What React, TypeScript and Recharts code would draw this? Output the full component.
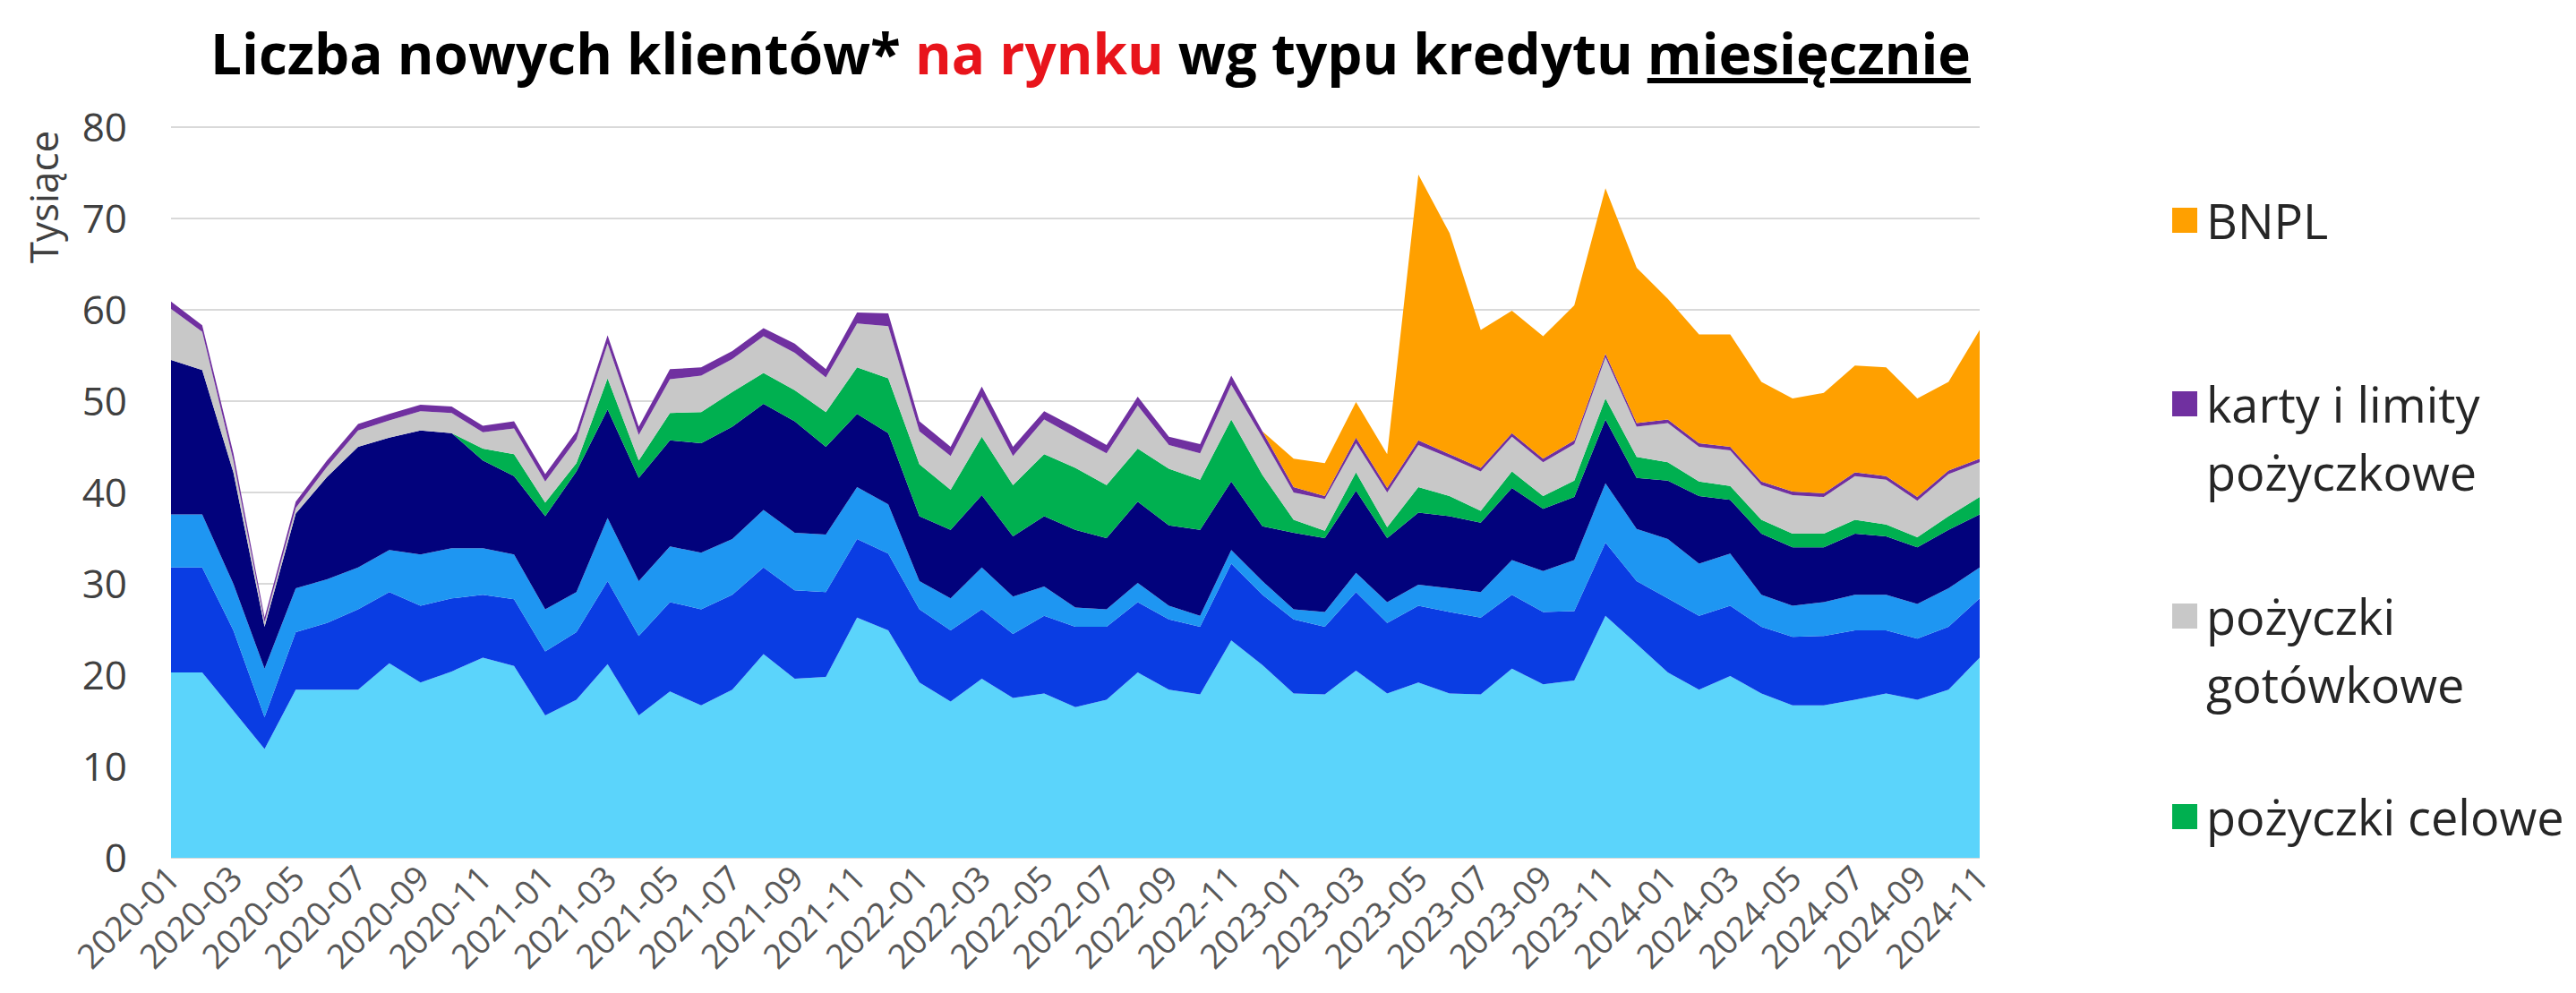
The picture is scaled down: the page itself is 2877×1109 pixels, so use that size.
import { AreaChart, Area, XAxis, YAxis, CartesianGrid, Legend } from 'recharts';

const FONT = "'Open Sans', Lato, sans-serif";

const months = [
  '2020-01', '2020-02', '2020-03', '2020-04', '2020-05', '2020-06', '2020-07', '2020-08', '2020-09', '2020-10', '2020-11', '2020-12',
  '2021-01', '2021-02', '2021-03', '2021-04', '2021-05', '2021-06', '2021-07', '2021-08', '2021-09', '2021-10', '2021-11', '2021-12',
  '2022-01', '2022-02', '2022-03', '2022-04', '2022-05', '2022-06', '2022-07', '2022-08', '2022-09', '2022-10', '2022-11', '2022-12',
  '2023-01', '2023-02', '2023-03', '2023-04', '2023-05', '2023-06', '2023-07', '2023-08', '2023-09', '2023-10', '2023-11', '2023-12',
  '2024-01', '2024-02', '2024-03', '2024-04', '2024-05', '2024-06', '2024-07', '2024-08', '2024-09', '2024-10', '2024-11',
];

// thousands of new clients per month, bottom layer first
const layer1 = [
  20.3, 20.3, 16.1, 11.9, 18.4, 18.4, 18.4, 21.3, 19.2, 20.4, 21.9, 21.0,
  15.6, 17.3, 21.2, 15.6, 18.2, 16.7, 18.4, 22.3, 19.6, 19.8, 26.3, 24.9,
  19.2, 17.1, 19.6, 17.5, 18.0, 16.5, 17.3, 20.3, 18.4, 17.9, 23.8, 21.1,
  18.0, 17.9, 20.5, 18.0, 19.2, 18.0, 17.9, 20.7, 19.0, 19.4, 26.5, 23.4,
  20.3, 18.4, 19.9, 18.0, 16.7, 16.7, 17.3, 18.0, 17.3, 18.4, 21.9,
];
const layer2 = [
  11.5, 11.5, 8.8, 3.5, 6.3, 7.3, 8.8, 7.8, 8.4, 8.0, 6.9, 7.3,
  7.0, 7.4, 9.1, 8.7, 9.8, 10.5, 10.4, 9.5, 9.7, 9.3, 8.6, 8.4,
  8.0, 7.8, 7.6, 7.0, 8.5, 8.8, 8.0, 7.7, 7.7, 7.4, 8.4, 7.7,
  8.1, 7.4, 8.6, 7.7, 8.4, 8.9, 8.4, 8.1, 7.9, 7.6, 8.0, 6.9,
  8.1, 8.1, 7.7, 7.3, 7.5, 7.6, 7.6, 6.9, 6.7, 6.9, 6.5,
];
const layer3 = [
  5.8, 5.8, 5.1, 5.3, 4.8, 4.8, 4.6, 4.6, 5.6, 5.5, 5.1, 4.9,
  4.6, 4.4, 6.9, 6.0, 6.1, 6.2, 6.1, 6.3, 6.3, 6.3, 5.7, 5.4,
  3.1, 3.5, 4.6, 4.1, 3.2, 2.1, 1.9, 2.1, 1.5, 1.2, 1.5, 1.5,
  1.1, 1.6, 2.1, 2.3, 2.3, 2.6, 2.8, 3.8, 4.5, 5.6, 6.5, 5.7,
  6.5, 5.7, 5.7, 3.5, 3.4, 3.7, 3.9, 3.9, 3.8, 4.2, 3.4,
];
const layer4 = [
  16.9, 15.8, 12.2, 4.6, 8.2, 11.2, 13.2, 12.3, 13.6, 12.6, 9.6, 8.6,
  10.2, 13.2, 11.9, 11.3, 11.6, 12.0, 12.3, 11.6, 12.2, 9.6, 8.0, 7.8,
  7.1, 7.5, 7.9, 6.6, 7.7, 8.5, 7.8, 8.9, 8.8, 9.4, 7.5, 6.0,
  8.4, 8.1, 9.0, 7.0, 7.9, 7.9, 7.6, 7.9, 6.8, 6.9, 7.0, 5.6,
  6.4, 7.4, 5.9, 6.7, 6.4, 6.0, 6.7, 6.4, 6.2, 6.4, 5.8,
];
const celowe = [
  0, 0, 0, 0, 0, 0, 0, 0, 0, 0, 1.3, 2.4,
  1.5, 0.9, 3.4, 1.9, 3.0, 3.4, 3.8, 3.4, 3.4, 3.8, 5.1, 6.0,
  5.7, 4.4, 6.4, 5.6, 6.8, 6.8, 5.8, 5.8, 6.2, 5.5, 6.8, 5.6,
  1.4, 0.8, 2.0, 1.2, 2.8, 2.2, 1.3, 1.8, 1.4, 1.8, 2.3, 2.3,
  2.0, 1.6, 1.5, 1.5, 1.5, 1.5, 1.5, 1.3, 1.1, 1.5, 1.9,
];
const gotowkowe = [
  5.6, 4.2, 1.3, 0.5, 0.6, 1.1, 1.8, 1.9, 2.1, 2.2, 1.8, 2.8,
  2.3, 2.6, 3.8, 2.8, 3.7, 4.0, 3.6, 4.0, 4.1, 3.8, 4.8, 5.7,
  3.6, 3.7, 4.4, 3.2, 3.8, 3.4, 3.5, 4.7, 2.6, 2.9, 3.8, 4.1,
  3.0, 3.5, 3.2, 3.8, 4.6, 4.2, 4.3, 3.8, 3.7, 4.0, 4.5, 3.3,
  4.3, 3.8, 3.9, 3.8, 4.2, 4.0, 4.8, 4.9, 4.0, 4.6, 3.8,
];
const karty = [
  0.8, 0.7, 0.8, 0.5, 0.7, 0.7, 0.7, 0.7, 0.7, 0.7, 0.7, 0.8,
  0.8, 0.9, 0.9, 0.9, 1.1, 0.9, 0.9, 0.9, 1.0, 0.9, 1.2, 1.4,
  1.1, 1.0, 1.1, 1.0, 0.9, 1.0, 0.9, 1.0, 0.9, 1.0, 1.0, 0.7,
  0.6, 0.3, 0.6, 0.5, 0.5, 0.4, 0.4, 0.4, 0.4, 0.4, 0.4, 0.4,
  0.4, 0.4, 0.4, 0.4, 0.4, 0.4, 0.4, 0.4, 0.4, 0.4, 0.4,
];
const bnpl = [
  0, 0, 0, 0, 0, 0, 0, 0, 0, 0, 0, 0,
  0, 0, 0, 0, 0, 0, 0, 0, 0, 0, 0, 0,
  0, 0, 0, 0, 0, 0, 0, 0, 0, 0, 0, 0,
  3.1, 3.6, 3.9, 3.7, 29.1, 24.2, 15.1, 13.4, 13.4, 14.8, 18.1, 17.0,
  13.2, 11.9, 12.3, 10.9, 10.2, 11.0, 11.7, 11.9, 10.8, 9.7, 14.1,
];

const yTicks = [0, 10, 20, 30, 40, 50, 60, 70, 80];

const series = [
  { key: 'l1', name: 'kategoria 1', color: '#5BD4FB', values: layer1, legend: false },
  { key: 'l2', name: 'kategoria 2', color: '#0A3DE3', values: layer2, legend: false },
  { key: 'l3', name: 'kategoria 3', color: '#1E96F2', values: layer3, legend: false },
  { key: 'l4', name: 'kategoria 4', color: '#02027C', values: layer4, legend: false },
  { key: 'celowe', name: 'pożyczki celowe', color: '#00B050', values: celowe, legend: true },
  { key: 'gotowkowe', name: 'pożyczki gotówkowe', color: '#C8C8C8', values: gotowkowe, legend: true },
  { key: 'karty', name: 'karty i limity pożyczkowe', color: '#7030A0', values: karty, legend: true },
  { key: 'bnpl', name: 'BNPL', color: '#FFA000', values: bnpl, legend: true },
];

const data = months.map((month, i) => {
  const row: Record<string, string | number> = { month };
  series.forEach((s) => {
    row[s.key] = s.values[i];
  });
  return row;
});

function MonthTick({ x, y, payload }: any) {
  return (
    <g transform={`translate(${x + 3},${y + 8})`}>
      <text x={0} y={0} dy="0.35em" textAnchor="end" transform="rotate(-45)" fill="#595959" fontSize={38} fontFamily={FONT}>
        {payload.value}
      </text>
    </g>
  );
}

// first-line centres of the legend entries, relative to the legend box (top: 200)
const legendRows = [46, 251, 488, 712];

function LegendBox() {
  const items = series.filter((s) => s.legend).reverse();
  return (
    <div style={{ position: 'relative', width: 450, height: 800, fontFamily: FONT }}>
      {items.map((s, i) => (
        <div key={s.key} style={{ position: 'absolute', left: 0, top: legendRows[i] - 38, display: 'flex', alignItems: 'flex-start' }}>
          <span style={{ width: 28, height: 28, marginTop: 24, marginRight: 10, background: s.color, flex: 'none' }} />
          <span style={{ width: 415, fontSize: 54, lineHeight: '76px', color: '#262626' }}>{s.name}</span>
        </div>
      ))}
    </div>
  );
}

export default function App() {
  return (
    <div style={{ position: 'absolute', left: 0, top: 0, width: 2877, height: 1109, background: '#fff', fontFamily: FONT }}>
      <div
        style={{
          position: 'absolute',
          left: 1218,
          top: 26,
          transform: 'translateX(-50%)',
          whiteSpace: 'nowrap',
          fontSize: 62,
          lineHeight: '66px',
          fontWeight: 700,
          color: '#000',
        }}
      >
        Liczba nowych klientów* <span style={{ color: '#E8141B' }}>na rynku</span> wg typu kredytu{' '}
        <span style={{ textDecoration: 'underline' }}>miesięcznie</span>
      </div>
      <AreaChart width={2877} height={1109} data={data} margin={{ top: 142, right: 666, bottom: 0, left: 0 }}>
        <CartesianGrid vertical={false} stroke="#D9D9D9" strokeWidth={2} />
        <XAxis
          dataKey="month"
          scale="point"
          interval={1}
          height={151}
          axisLine={false}
          tickLine={false}
          tick={<MonthTick />}
        />
        <YAxis
          width={191}
          domain={[0, 80]}
          ticks={yTicks}
          axisLine={false}
          tickLine={false}
          tickMargin={43}
          tick={{ fill: '#404040', fontSize: 44, fontFamily: FONT }}
          label={{
            content: () => (
              <text x={65} y={220} transform="rotate(-90 65 220)" textAnchor="middle" fill="#404040" fontSize={44} fontFamily={FONT}>
                Tysiące
              </text>
            ),
          }}
        />
        <Legend
          layout="vertical"
          align="center"
          verticalAlign="middle"
          content={<LegendBox />}
          wrapperStyle={{ left: 2426, top: 200, width: 450, height: 800 }}
        />
        {series.map((s) => (
          <Area
            key={s.key}
            type="linear"
            dataKey={s.key}
            name={s.name}
            stackId="a"
            fill={s.color}
            fillOpacity={1}
            stroke="none"
            legendType={s.legend ? 'square' : 'none'}
            isAnimationActive={false}
          />
        ))}
      </AreaChart>
    </div>
  );
}
